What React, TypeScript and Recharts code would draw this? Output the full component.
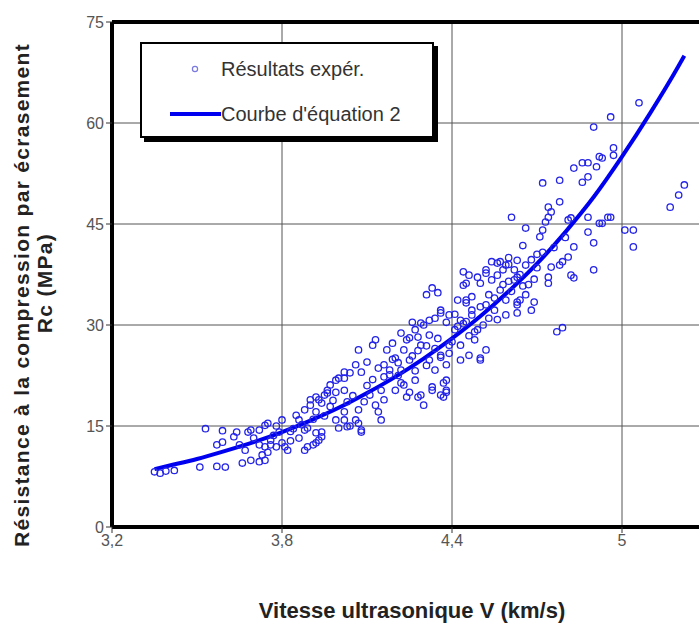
import React from 'react';
import {
  ComposedChart,
  Line,
  Scatter,
  XAxis,
  YAxis,
  CartesianGrid,
  ReferenceLine,
} from 'recharts';

const lowPoints: [number, number][] = [
  [3.35, 8.2], [3.37, 8.0], [3.39, 8.3], [3.42, 8.4], [3.51, 8.9], [3.57, 9.0], [3.6, 8.9],
  [3.53, 14.6], [3.59, 14.3], [3.57, 12.2], [3.59, 12.6], [3.65, 12.2], [3.67, 11.4],
  [3.63, 13.4], [3.64, 14.1], [3.68, 14.1], [3.69, 14.4], [3.72, 14.4],
  [3.66, 9.5], [3.69, 9.9], [3.73, 10.7], [3.72, 9.7], [3.74, 9.9], [3.75, 11.1],
  [3.72, 12.2], [3.74, 11.9], [3.76, 12.9], [3.76, 12.2], [3.78, 11.9], [3.8, 12.5], [3.82, 11.4],
  [3.74, 15.1], [3.75, 15.4], [3.78, 15.0], [3.79, 14.1], [3.8, 15.9], [3.81, 11.9], [3.83, 12.8],
  [3.85, 16.6], [3.86, 15.9], [3.88, 17.4], [3.9, 18.1], [3.92, 17.1], [3.93, 18.9], [3.95, 19.6],
  [3.86, 13.2], [3.88, 11.4], [3.91, 12.2], [3.93, 12.9], [3.94, 14.1], [3.89, 14.7],
  [3.88, 14.4], [3.92, 14.0], [3.94, 13.4], [3.89, 11.9], [3.92, 12.5],
  [3.9, 18.9], [3.92, 19.3], [3.94, 18.4], [3.96, 19.9], [3.96, 20.3],
  [3.97, 21.1], [3.99, 20.0], [4.0, 22.1], [4.02, 20.3], [4.04, 22.9],
  [3.99, 15.9], [4.0, 14.7], [4.02, 17.1], [4.04, 15.0], [4.06, 15.9], [4.08, 14.1], [4.07, 17.4],
  [4.02, 15.9], [4.03, 14.9], [4.07, 15.4], [4.08, 14.4], [4.15, 15.9],
  [4.02, 23.0], [4.02, 22.1], [3.99, 21.8], [3.84, 14.6], [3.7, 13.2], [3.97, 17.9],
  [3.98, 18.8], [3.95, 16.5], [3.91, 16.0], [3.87, 15.2], [3.83, 14.2], [3.77, 13.6],
  [4.05, 19.5], [4.03, 18.6],
];

const midPoints: [number, number][] = [
  [4.06, 24.1], [4.08, 23.0], [4.1, 24.5], [4.12, 27.0], [4.13, 27.8], [4.07, 26.3],
  [4.11, 19.6], [4.13, 18.1], [4.09, 18.6], [4.15, 20.3], [4.16, 18.9], [4.14, 17.1],
  [4.16, 24.1], [4.18, 22.6], [4.2, 25.1], [4.22, 23.3], [4.23, 26.3],
  [4.23, 21.1], [4.25, 20.0], [4.27, 21.8], [4.29, 19.6], [4.2, 20.3],
  [4.22, 21.4], [4.24, 19.3], [4.28, 19.3], [4.33, 20.3], [4.37, 19.3],
  [4.18, 23.3], [4.21, 24.4], [4.16, 22.3],
  [4.25, 28.1], [4.27, 29.3], [4.29, 27.0], [4.3, 30.0], [4.32, 28.5],
  [4.22, 28.8], [4.19, 27.3], [4.17, 26.3], [4.24, 27.8], [4.28, 28.2],
  [4.33, 35.5], [4.31, 34.5], [4.35, 34.8],
  [4.32, 24.8], [4.34, 23.3], [4.36, 25.5], [4.38, 21.8], [4.36, 19.6], [4.38, 20.3], [4.3, 18.1],
  [4.36, 25.2], [4.38, 24.1], [4.39, 25.8], [4.43, 24.8],
  [4.33, 20.8], [4.37, 21.4], [4.38, 20.0],
  [4.34, 31.0], [4.36, 32.2], [4.38, 30.4], [4.39, 31.5],
  [4.36, 31.8], [4.32, 30.7], [4.29, 30.3], [4.26, 30.4],
  [4.26, 25.4], [4.31, 26.9], [4.35, 28.0], [4.12, 21.9], [4.19, 24.9], [4.28, 26.2],
  [4.39, 27.0], [4.34, 26.5], [4.31, 24.0], [4.27, 23.2], [4.25, 24.8], [4.21, 22.5],
  [4.14, 23.6], [4.1, 21.0],
];

const highPoints: [number, number][] = [
  [4.41, 29.3], [4.43, 30.7], [4.45, 33.7], [4.44, 35.9], [4.46, 37.4], [4.47, 32.2],
  [4.43, 27.0], [4.46, 25.5], [4.48, 27.8], [4.5, 24.8], [4.49, 29.3], [4.5, 25.1], [4.52, 26.3],
  [4.44, 37.9], [4.45, 36.2], [4.49, 37.1], [4.5, 36.2], [4.52, 37.7], [4.54, 36.7], [4.56, 39.2], [4.58, 38.2],
  [4.42, 33.7], [4.45, 33.3], [4.47, 34.2], [4.5, 32.7],
  [4.52, 33.0], [4.53, 34.5], [4.55, 32.2], [4.57, 35.2], [4.59, 33.7],
  [4.52, 38.2], [4.54, 39.4], [4.56, 37.4], [4.59, 38.9], [4.6, 40.0],
  [4.62, 36.7], [4.64, 33.7], [4.66, 34.5], [4.63, 33.0], [4.68, 32.2],
  [4.63, 33.4], [4.63, 31.8], [4.69, 33.4], [4.77, 29.0], [4.79, 29.6],
  [4.57, 39.4], [4.6, 39.0], [4.63, 39.6], [4.66, 38.9], [4.68, 39.7], [4.62, 38.2], [4.63, 37.1],
  [4.82, 37.4], [4.83, 37.0], [4.9, 38.2],
  [4.61, 46.0], [4.66, 44.4], [4.72, 51.1], [4.78, 51.5], [4.83, 53.3], [4.86, 54.1], [4.88, 54.1],
  [4.91, 53.5], [4.92, 55.0], [4.93, 54.8], [4.88, 52.0], [4.86, 51.2], [4.78, 48.3],
  [4.74, 47.5], [4.75, 46.8], [4.74, 46.0], [4.73, 45.3], [4.72, 44.1], [4.71, 43.1],
  [4.81, 45.6], [4.82, 45.9], [4.88, 46.0], [4.92, 45.1], [4.95, 46.0], [4.88, 43.8],
  [4.9, 42.2], [4.83, 41.6], [4.81, 40.1], [4.79, 39.4], [4.78, 38.9],
  [4.75, 38.6], [4.74, 37.1], [4.74, 36.2], [4.7, 40.5], [4.65, 41.8],
  [4.9, 59.4], [4.96, 60.9], [5.06, 63.0], [4.97, 56.3], [4.97, 55.2],
  [4.96, 46.0], [4.93, 45.1], [5.01, 44.1], [5.04, 44.1], [5.04, 41.6],
  [5.17, 47.5], [5.2, 49.3], [5.22, 50.8],
  [4.4, 27.5], [4.42, 29.8], [4.45, 30.5], [4.47, 31.5], [4.48, 29.0], [4.53, 31.0],
  [4.55, 34.0], [4.58, 36.0], [4.61, 35.0], [4.64, 37.5], [4.67, 36.0], [4.7, 38.5],
  [4.72, 40.8], [4.76, 41.5], [4.8, 43.0], [4.41, 31.6], [4.44, 30.2], [4.46, 28.4],
  [4.51, 30.0], [4.56, 30.8], [4.59, 31.5], [4.6, 36.5], [4.65, 35.8], [4.69, 36.8],
];

// fitted curve (equation 2)
const curveV = [3.35, 3.4, 3.5, 3.6, 3.7, 3.8, 3.9, 4.0, 4.1, 4.2, 4.3, 4.4, 4.5, 4.6, 4.7, 4.8, 4.9, 5.0, 5.1, 5.2, 5.22];
const curveRc = [8.6, 9.1, 10.1, 11.3, 12.6, 14.1, 15.8, 17.7, 19.9, 22.3, 25.0, 28.0, 31.3, 35.0, 39.1, 43.8, 49.0, 55.0, 61.5, 68.5, 70.0];

const xTicks = [3.2, 3.8, 4.4, 5];
const yTicks = [0, 15, 30, 45, 60, 75];

const FONT = '"Liberation Sans", Arial, sans-serif';
const POINT_COLOR = '#2424e8';
const CURVE_COLOR = '#0000f0';

const scatterData = [...lowPoints, ...midPoints, ...highPoints].map(([v, rc]) => ({ v, rc }));
const curveData = curveV.map((v, i) => ({ v, rc: curveRc[i] }));

const Ring = (props: any) => {
  const { cx, cy } = props;
  if (cx == null || cy == null) return null;
  return <circle cx={cx} cy={cy} r={3.2} fill="none" stroke={POINT_COLOR} strokeWidth={1.3} />;
};

const YTitle = () => (
  <g fontFamily={FONT} fontWeight="bold" fontSize={21} fill="#222" letterSpacing={1.3}>
    <text x={29} y={295} transform="rotate(-90 29 295)" textAnchor="middle">
      Résistance à la compression par écrasement
    </text>
    <text x={52} y={283} transform="rotate(-90 52 283)" textAnchor="middle">
      Rc (MPa)
    </text>
  </g>
);

const XTitle = () => (
  <text x={412} y={618} textAnchor="middle" fontFamily={FONT} fontWeight="bold" fontSize={22} fill="#222">
    Vitesse ultrasonique V (km/s)
  </text>
);

const LegendBox = () => (
  <div
    style={{
      position: 'absolute',
      left: 140,
      top: 42,
      width: 290,
      height: 92,
      border: '2px solid #000',
      boxShadow: '4px 4px 0 #000',
      background: '#fff',
    }}
  >
    <svg width={290} height={92} style={{ position: 'absolute', left: 0, top: 0 }}>
      <circle cx={53} cy={25} r={2.6} fill="none" stroke="#7a7ae0" strokeWidth={1.2} />
      <text x={79} y={32} fontFamily={FONT} fontSize={20} fill="#333">Résultats expér.</text>
      <line x1={28} y1={70} x2={79} y2={70} stroke={CURVE_COLOR} strokeWidth={4} />
      <text x={79} y={77} fontFamily={FONT} fontSize={20} fill="#333">Courbe d'équation 2</text>
    </svg>
  </div>
);

export default function App() {
  return (
    <div
      style={{
        position: 'absolute',
        left: 0,
        top: 0,
        width: 699,
        height: 625,
        overflow: 'hidden',
        background: '#fff',
      }}
    >
      <ComposedChart
        width={792}
        height={625}
        margin={{ top: 22, right: 0, bottom: 68, left: 0 }}
      >
        <CartesianGrid stroke="#555" strokeWidth={1} />
        <XAxis
          dataKey="v"
          type="number"
          domain={[3.2, 5.6]}
          ticks={xTicks}
          allowDataOverflow
          tickFormatter={(t: number) => String(t).replace('.', ',')}
          axisLine={{ stroke: '#000', strokeWidth: 4 }}
          tickLine={{ stroke: '#333' }}
          tickSize={6}
          height={30}
          tick={{ fill: '#555', fontSize: 16, fontFamily: FONT }}
        />
        <YAxis
          dataKey="rc"
          type="number"
          domain={[0, 75]}
          ticks={yTicks}
          width={112}
          axisLine={{ stroke: '#000', strokeWidth: 4 }}
          tickLine={{ stroke: '#333' }}
          tickSize={6}
          tick={{ fill: '#555', fontSize: 16, fontFamily: FONT }}
        />
        <ReferenceLine y={75} stroke="#000" strokeWidth={4} />
        <Scatter
          data={scatterData}
          dataKey="rc"
          shape={Ring}
          isAnimationActive={false}
        />
        <Line
          data={curveData}
          dataKey="rc"
          type="monotone"
          stroke={CURVE_COLOR}
          strokeWidth={4}
          dot={false}
          activeDot={false}
          isAnimationActive={false}
        />
        <YTitle />
        <XTitle />
      </ComposedChart>
      <LegendBox />
    </div>
  );
}
